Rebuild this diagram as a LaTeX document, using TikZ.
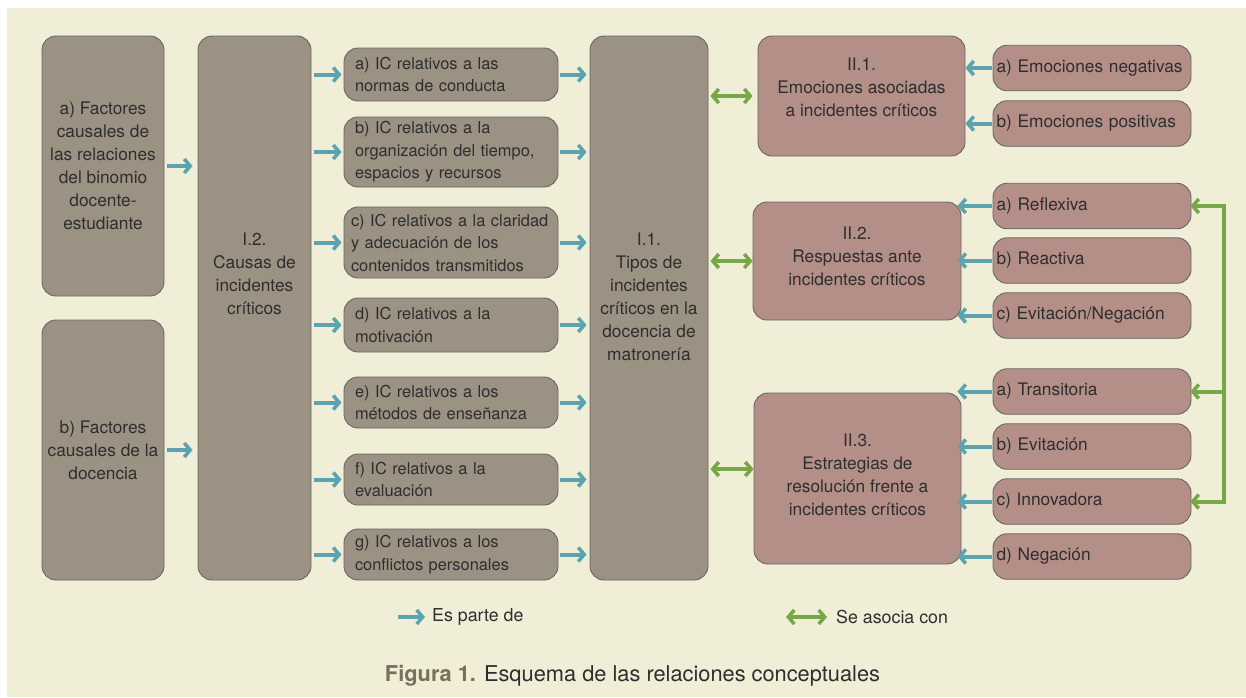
\documentclass[tikz,border=0pt]{standalone}
\usepackage{fontspec}
\setmainfont{TeX Gyre Heros}
\usetikzlibrary{arrows.meta,positioning}

\definecolor{fondo}{HTML}{F0EED7}
\definecolor{cafe}{HTML}{9B9283}
\definecolor{rosado}{HTML}{B48F88}
\definecolor{borde}{HTML}{666666}
\definecolor{tinta}{HTML}{2E2E2E}
\definecolor{turquesa}{HTML}{5BA3AE}
\definecolor{verde}{HTML}{76A845}
\definecolor{marron}{HTML}{7A6F5C}

\newcommand{\grande}{\fontsize{17.3}{23}\selectfont}
\newcommand{\pequena}{\fontsize{16.4}{22.5}\selectfont}
\newcommand{\leyenda}{\fontsize{17.8}{20}\selectfont}
\newcommand{\titulo}{\fontsize{21.8}{24}\selectfont}

\tikzset{
	caja/.style={draw=borde, line width=0.9pt, rounded corners=14pt, inner sep=0pt, text=tinta},
	gris/.style={caja, fill=cafe},
	rosa/.style={caja, fill=rosado},
	texto/.style={inner sep=0pt, text=tinta, align=center, font=\grande},
	ic/.style={gris, text width=192pt, inner xsep=11pt, align=left, font=\pequena},
	sub/.style={rosa, minimum height=45.5pt, text width=191pt, inner xsep=3.5pt, align=left, font=\grande},
	parte/.style={draw=turquesa, line width=4pt, ->},
	asocia/.style={draw=verde, line width=4pt, <->},
}

\begin{document}
\begin{tikzpicture}[x=1pt, y=-1pt, >={Straight Barb[length=6pt, width=14pt, line width=3.5pt]}]
		\useasboundingbox (0,0) rectangle (1246,697);
		\fill[fondo] (7,8) rectangle (1246,697);
		
		% factores causales
		\node[gris, minimum width=122pt, minimum height=260pt, align=center, font=\grande] (facA) at (103,166) {a) Factores\\causales de\\las relaciones\\del binomio\\docente-\\estudiante};
		\node[gris, minimum width=122pt, minimum height=260pt, align=center, font=\grande] (facB) at (103,450) {b) Factores\\causales de la\\docencia};
		
		\node[gris, minimum width=113pt, minimum height=544pt] (causas) at (254.5,308) {};
		\node[texto] (causasT) at (254.5,274) {I.2.\\Causas de\\incidentes\\críticos};
		
		% tipos de IC
		\node[ic, minimum height=53pt] (ICa) at (451,74.5) {a) IC relativos a las\\normas de conducta};
		\node[ic, minimum height=70pt] (ICb) at (451,152) {b) IC relativos a la\\organización del tiempo,\\espacios y recursos};
		\node[ic, minimum height=71pt, text width=200pt, inner xsep=7pt] (ICc) at (451,242.5) {c) IC relativos a la claridad\\y adecuación de los\\contenidos transmitidos};
		\node[ic, minimum height=54pt] (ICd) at (451,325) {d) IC relativos a la\\motivación};
		\node[ic, minimum height=51pt] (ICe) at (451,402.5) {e) IC relativos a los\\métodos de enseñanza};
		\node[ic, minimum height=51pt] (ICf) at (451,479.5) {f) IC relativos a la\\evaluación};
		\node[ic, minimum height=51pt] (ICg) at (451,554.5) {g) IC relativos a los\\conflictos personales};
		
		\node[gris, minimum width=118pt, minimum height=544pt] (tipos) at (649,308) {};
		\node[texto] (tiposT) at (649,297) {I.1.\\Tipos de\\incidentes\\críticos en la\\docencia de\\matronería};
		
		% bloque II
		\node[rosa, minimum width=207pt, minimum height=120pt] (emo) at (861.5,96) {};
		\node[texto] (emoT) at (861.5,87) {II.1.\\Emociones asociadas\\a incidentes críticos};
		\node[rosa, minimum width=208pt, minimum height=118pt] (resp) at (857,261) {};
		\node[texto] (respT) at (857,256) {II.2.\\Respuestas ante\\incidentes críticos};
		\node[rosa, minimum width=207pt, minimum height=171pt] (estr) at (857.5,478.5) {};
		\node[texto] (estrT) at (857.5,475) {II.3.\\Estrategias de\\resolución frente a\\incidentes críticos};
		
		\node[sub] (neg) at (1092,68) {a) Emociones negativas};
		\node[sub] (pos) at (1092,123.5) {b) Emociones positivas};
		\node[sub] (refl) at (1092,206) {a) Reflexiva};
		\node[sub] (react) at (1092,260.5) {b) Reactiva};
		\node[sub] (evin) at (1092,315.5) {c) Evitación/Negación};
		\node[sub] (trans) at (1092,391.5) {a) Transitoria};
		\node[sub] (evit) at (1092,446.5) {b) Evitación};
		\node[sub] (innov) at (1092,501.5) {c) Innovadora};
		\node[sub] (negac) at (1092,556.5) {d) Negación};
		
		% flechas es parte de
		\draw[parte, shorten <=3pt, shorten >=5pt] (facA.east) -- (facA.east -| causas.west);
		\draw[parte, shorten <=3pt, shorten >=5pt] (facB.east) -- (facB.east -| causas.west);
		
		\draw[parte, shorten <=3pt, shorten >=2pt] (ICa.west -| causas.east) -- (ICa.west);
		\draw[parte, shorten <=3pt, shorten >=2pt] (ICb.west -| causas.east) -- (ICb.west);
		\draw[parte, shorten <=3pt, shorten >=2pt] (ICc.west -| causas.east) -- (ICc.west);
		\draw[parte, shorten <=3pt, shorten >=2pt] (ICd.west -| causas.east) -- (ICd.west);
		\draw[parte, shorten <=3pt, shorten >=2pt] (ICe.west -| causas.east) -- (ICe.west);
		\draw[parte, shorten <=3pt, shorten >=2pt] (ICf.west -| causas.east) -- (ICf.west);
		\draw[parte, shorten <=3pt, shorten >=2pt] (ICg.west -| causas.east) -- (ICg.west);
		
		\draw[parte, shorten <=2pt, shorten >=3pt] (ICa.east) -- (ICa.east -| tipos.west);
		\draw[parte, shorten <=2pt, shorten >=3pt] (ICb.east) -- (ICb.east -| tipos.west);
		\draw[parte, shorten <=2pt, shorten >=3pt] (ICc.east) -- (ICc.east -| tipos.west);
		\draw[parte, shorten <=2pt, shorten >=3pt] (ICd.east) -- (ICd.east -| tipos.west);
		\draw[parte, shorten <=2pt, shorten >=3pt] (ICe.east) -- (ICe.east -| tipos.west);
		\draw[parte, shorten <=2pt, shorten >=3pt] (ICf.east) -- (ICf.east -| tipos.west);
		\draw[parte, shorten <=2pt, shorten >=3pt] (ICg.east) -- (ICg.east -| tipos.west);
		
		\draw[parte, shorten <=1pt] (neg.west) -- (neg.west -| emo.east);
		\draw[parte, shorten <=1pt] (pos.west) -- (pos.west -| emo.east);
		\draw[parte, shorten <=1pt, shorten >=-4pt] (refl.west) -- (refl.west -| resp.east);
		\draw[parte, shorten <=1pt, shorten >=-4pt] (react.west) -- (react.west -| resp.east);
		\draw[parte, shorten <=1pt, shorten >=-4pt] (evin.west) -- (evin.west -| resp.east);
		\draw[parte, shorten <=1pt, shorten >=-4pt] (trans.west) -- (trans.west -| estr.east);
		\draw[parte, shorten <=1pt, shorten >=-4pt] (evit.west) -- (evit.west -| estr.east);
		\draw[parte, shorten <=1pt, shorten >=-4pt] (innov.west) -- (innov.west -| estr.east);
		\draw[parte, shorten <=1pt, shorten >=-4pt] (negac.west) -- (negac.west -| estr.east);
		
		% flechas se asocia con
		\coordinate (estrW) at ([yshift=9.5pt]estr.west);
		\draw[asocia, shorten <=2pt, shorten >=5pt] (tipos.east |- emo.west) -- (emo.west);
		\draw[asocia, shorten <=2pt] (tipos.east |- resp.west) -- (resp.west);
		\draw[asocia, shorten <=2pt] (tipos.east |- estrW) -- (estrW);
		
		\coordinate (bus) at ([xshift=33pt]refl.east);
		\draw[asocia, shorten <=-1pt, shorten >=-1pt] (refl.east) -- (bus) |- (innov.east);
		\draw[asocia, -> , shorten >=-1pt] (bus |- trans.east) -- (trans.east);
		
		% leyenda
		\node[anchor=west, inner sep=0pt, text=tinta, font=\leyenda] (parteL) at (432,617) {Es parte de};
		\coordinate (parteA) at (398,617);
		\draw[parte, shorten >=7pt] (parteA) -- (parteL.west);
		\node[anchor=west, inner sep=0pt, text=tinta, font=\leyenda] (asocL) at (836,617) {Se asocia con};
		\coordinate (asocA) at (786,617);
		\draw[asocia, shorten >=9pt] (asocA) -- (asocL.west);
		
		\node[inner sep=0pt, text=tinta, font=\titulo] (figura) at (632.5,676) {\textcolor{marron}{\textbf{Figura 1.}} Esquema de las relaciones conceptuales};
\end{tikzpicture}
\end{document}
